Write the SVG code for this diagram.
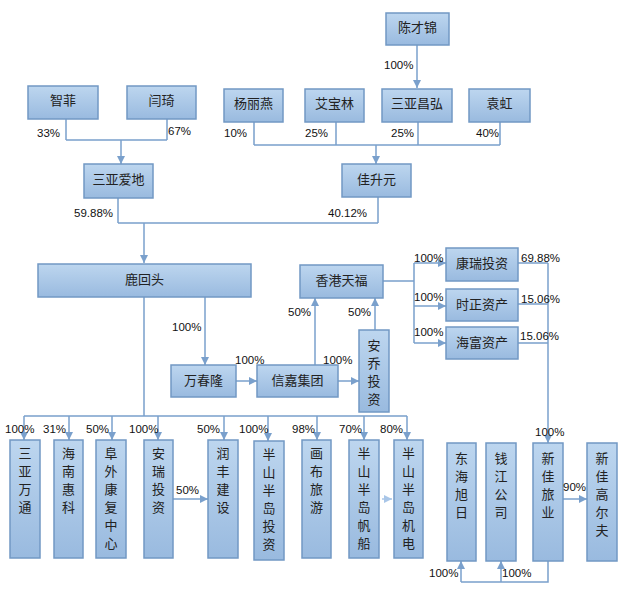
<svg xmlns="http://www.w3.org/2000/svg" width="636" height="615" viewBox="0 0 636 615">
<defs>
<linearGradient id="g" x1="0" y1="0" x2="0" y2="1">
<stop offset="0" stop-color="#bdd6ef"/>
<stop offset="1" stop-color="#99badf"/>
</linearGradient>
<marker id="a" markerUnits="userSpaceOnUse" markerWidth="9" markerHeight="8" refX="8" refY="4" orient="auto">
<path d="M0,0 L8,4 L0,8 z" fill="#7aa0cc"/>
</marker>
<marker id="af" markerUnits="userSpaceOnUse" markerWidth="9" markerHeight="8" refX="8" refY="4" orient="auto">
<path d="M0,0 L8,4 L0,8 z" fill="#a9c6e8"/>
</marker>
</defs>
<style>
.n rect{fill:url(#g);stroke:#7298c4;stroke-width:1.5}
.n text{font-family:"Noto Sans CJK SC","Noto Sans CJK JP",sans-serif;font-size:13px;fill:#222;text-anchor:middle}
.c{fill:none;stroke:#7aa0cc;stroke-width:1.5}
.ar{marker-end:url(#a)}
.p{font-family:"Liberation Sans",Arial,sans-serif;font-size:11.5px;fill:#111}
</style>
<rect width="636" height="615" fill="#fff"/>
<g id="connectors">
<path class="c" d="M66,119 V140 M167,119 V140 M66,140 H167"/>
<path class="c ar" d="M121,140 V164"/>
<path class="c ar" d="M417,45 V88"/>
<path class="c" d="M254,122 V145 M336,122 V145 M418,122 V145 M500,122 V145 M254,145 H500"/>
<path class="c ar" d="M376,145 V164"/>
<path class="c" d="M118,198 V223 M378,197 V223 M118,223 H378"/>
<path class="c ar" d="M144,223 V263"/>
<path class="c" d="M144,297 V416 M24,416 H407"/>
<path class="c ar" d="M24,416 V440"/>
<path class="c ar" d="M69,416 V440"/>
<path class="c ar" d="M112,416 V440"/>
<path class="c ar" d="M158,416 V440"/>
<path class="c ar" d="M224,416 V440"/>
<path class="c ar" d="M268,416 V441"/>
<path class="c ar" d="M317,416 V440"/>
<path class="c ar" d="M364,416 V440"/>
<path class="c ar" d="M407,416 V440"/>
<path class="c ar" d="M205,297 V365"/>
<path class="c ar" d="M236,381 H257"/>
<path class="c ar" d="M315,365 V298"/>
<path class="c ar" d="M338,381 H359"/>
<path class="c ar" d="M375,330 V298"/>
<path class="c" d="M383,281 H414 M414,263 V343"/>
<path class="c ar" d="M414,263 H446"/>
<path class="c ar" d="M414,306 H446"/>
<path class="c ar" d="M414,343 H446"/>
<path class="c" d="M518,263 H548 M518,304 H548 M518,343 H548"/>
<path class="c ar" d="M548,263 V443"/>
<path class="c ar" d="M563,499 H587"/>
<path class="c" d="M548,561 V582 H461"/>
<path class="c ar" d="M461,582 V561"/>
<path class="c ar" d="M501,582 V561"/>
<path class="c ar" d="M173,499 H208"/>
<path d="M382,499 H392" fill="none" stroke="#a9c6e8" stroke-width="1.5" marker-end="url(#af)"/>
</g>
<g id="n-zhifei" class="n"><rect x="28" y="86" width="70" height="33"/><text x="63" y="105">智菲</text></g>
<g id="n-yanqi" class="n"><rect x="127" y="86" width="69" height="33"/><text x="161.5" y="105">闫琦</text></g>
<g id="n-chencaijin" class="n"><rect x="386" y="13" width="63" height="32"/><text x="417.5" y="32">陈才锦</text></g>
<g id="n-yangliyan" class="n"><rect x="224" y="89" width="59" height="33"/><text x="253.5" y="108">杨丽燕</text></g>
<g id="n-aibaolin" class="n"><rect x="305" y="89" width="59" height="33"/><text x="334.5" y="108">艾宝林</text></g>
<g id="n-sanyachanghong" class="n"><rect x="382" y="89" width="70" height="33"/><text x="417" y="108">三亚昌弘</text></g>
<g id="n-yuanhong" class="n"><rect x="469" y="89" width="61" height="33"/><text x="499.5" y="108">袁虹</text></g>
<g id="n-sanyaaidi" class="n"><rect x="84" y="164" width="69" height="34"/><text x="118.5" y="184">三亚爱地</text></g>
<g id="n-jiashengyuan" class="n"><rect x="342" y="164" width="69" height="33"/><text x="376.5" y="184">佳升元</text></g>
<g id="n-luhuitou" class="n"><rect x="38" y="264" width="213" height="33"/><text x="144.5" y="284">鹿回头</text></g>
<g id="n-wanchunlong" class="n"><rect x="171" y="365" width="65" height="32"/><text x="203.5" y="385">万春隆</text></g>
<g id="n-xinjia" class="n"><rect x="257" y="365" width="81" height="32"/><text x="297.5" y="385">信嘉集团</text></g>
<g id="n-xianggangtianfu" class="n"><rect x="300" y="265" width="83" height="33"/><text x="341.5" y="285">香港天福</text></g>
<g id="n-anqiao" class="n"><rect x="359" y="330" width="30" height="82"/><text x="374" y="350">安</text><text x="374" y="368">乔</text><text x="374" y="386">投</text><text x="374" y="404">资</text></g>
<g id="n-kangrui" class="n"><rect x="446" y="248" width="72" height="33"/><text x="482" y="268">康瑞投资</text></g>
<g id="n-shizheng" class="n"><rect x="446" y="289" width="72" height="32"/><text x="482" y="309">时正资产</text></g>
<g id="n-haifu" class="n"><rect x="446" y="327" width="72" height="32"/><text x="482" y="347">海富资产</text></g>
<g id="n-sanyawantong" class="n"><rect x="10" y="440" width="30" height="118"/><text x="25" y="458">三</text><text x="25" y="476">亚</text><text x="25" y="494">万</text><text x="25" y="512">通</text></g>
<g id="n-hainanhuike" class="n"><rect x="54" y="440" width="29" height="118"/><text x="68.5" y="458">海</text><text x="68.5" y="476">南</text><text x="68.5" y="494">惠</text><text x="68.5" y="512">科</text></g>
<g id="n-fuwai" class="n"><rect x="96" y="440" width="30" height="118"/><text x="111" y="458">阜</text><text x="111" y="476">外</text><text x="111" y="494">康</text><text x="111" y="512">复</text><text x="111" y="530">中</text><text x="111" y="548">心</text></g>
<g id="n-anrui" class="n"><rect x="144" y="440" width="29" height="118"/><text x="158.5" y="458">安</text><text x="158.5" y="476">瑞</text><text x="158.5" y="494">投</text><text x="158.5" y="512">资</text></g>
<g id="n-runfeng" class="n"><rect x="208" y="440" width="30" height="118"/><text x="223" y="458">润</text><text x="223" y="476">丰</text><text x="223" y="494">建</text><text x="223" y="512">设</text></g>
<g id="n-banshantouzi" class="n"><rect x="254" y="441" width="30" height="119"/><text x="269" y="459">半</text><text x="269" y="477">山</text><text x="269" y="495">半</text><text x="269" y="513">岛</text><text x="269" y="531">投</text><text x="269" y="549">资</text></g>
<g id="n-huabu" class="n"><rect x="302" y="440" width="29" height="118"/><text x="316.5" y="458">画</text><text x="316.5" y="476">布</text><text x="316.5" y="494">旅</text><text x="316.5" y="512">游</text></g>
<g id="n-banshanfanchuan" class="n"><rect x="349" y="440" width="30" height="118"/><text x="364" y="458">半</text><text x="364" y="476">山</text><text x="364" y="494">半</text><text x="364" y="512">岛</text><text x="364" y="530">帆</text><text x="364" y="548">船</text></g>
<g id="n-banshanjidian" class="n"><rect x="394" y="440" width="29" height="118"/><text x="408.5" y="458">半</text><text x="408.5" y="476">山</text><text x="408.5" y="494">半</text><text x="408.5" y="512">岛</text><text x="408.5" y="530">机</text><text x="408.5" y="548">电</text></g>
<g id="n-donghaixuri" class="n"><rect x="447" y="443" width="29" height="118"/><text x="461.5" y="463">东</text><text x="461.5" y="481">海</text><text x="461.5" y="499">旭</text><text x="461.5" y="517">日</text></g>
<g id="n-qianjiang" class="n"><rect x="486" y="443" width="30" height="118"/><text x="501" y="463">钱</text><text x="501" y="481">江</text><text x="501" y="499">公</text><text x="501" y="517">司</text></g>
<g id="n-xinjialvye" class="n"><rect x="533" y="443" width="30" height="118"/><text x="548" y="463">新</text><text x="548" y="481">佳</text><text x="548" y="499">旅</text><text x="548" y="517">业</text></g>
<g id="n-xinjiagaoerfu" class="n"><rect x="587" y="443" width="30" height="118"/><text x="602" y="463">新</text><text x="602" y="481">佳</text><text x="602" y="499">高</text><text x="602" y="517">尔</text><text x="602" y="535">夫</text></g>
<g id="labels">
<text class="p" x="37" y="137">33%</text>
<text class="p" x="168" y="135">67%</text>
<text class="p" x="384" y="69">100%</text>
<text class="p" x="224" y="137">10%</text>
<text class="p" x="305" y="137">25%</text>
<text class="p" x="391" y="137">25%</text>
<text class="p" x="476" y="137">40%</text>
<text class="p" x="74" y="217">59.88%</text>
<text class="p" x="328" y="217">40.12%</text>
<text class="p" x="172" y="331">100%</text>
<text class="p" x="288" y="316">50%</text>
<text class="p" x="348" y="316">50%</text>
<text class="p" x="235" y="364">100%</text>
<text class="p" x="323" y="364">100%</text>
<text class="p" x="414" y="262">100%</text>
<text class="p" x="414" y="301">100%</text>
<text class="p" x="414" y="336">100%</text>
<text class="p" x="521" y="262">69.88%</text>
<text class="p" x="521" y="303">15.06%</text>
<text class="p" x="520" y="340">15.06%</text>
<text class="p" x="535" y="436">100%</text>
<text class="p" x="563" y="491">90%</text>
<text class="p" x="429" y="577">100%</text>
<text class="p" x="502" y="577">100%</text>
<text class="p" x="5" y="433">100%</text>
<text class="p" x="43" y="433">31%</text>
<text class="p" x="86" y="433">50%</text>
<text class="p" x="129" y="433">100%</text>
<text class="p" x="197" y="433">50%</text>
<text class="p" x="239" y="433">100%</text>
<text class="p" x="292" y="433">98%</text>
<text class="p" x="339" y="433">70%</text>
<text class="p" x="380" y="433">80%</text>
<text class="p" x="176" y="494">50%</text>
</g>
</svg>
